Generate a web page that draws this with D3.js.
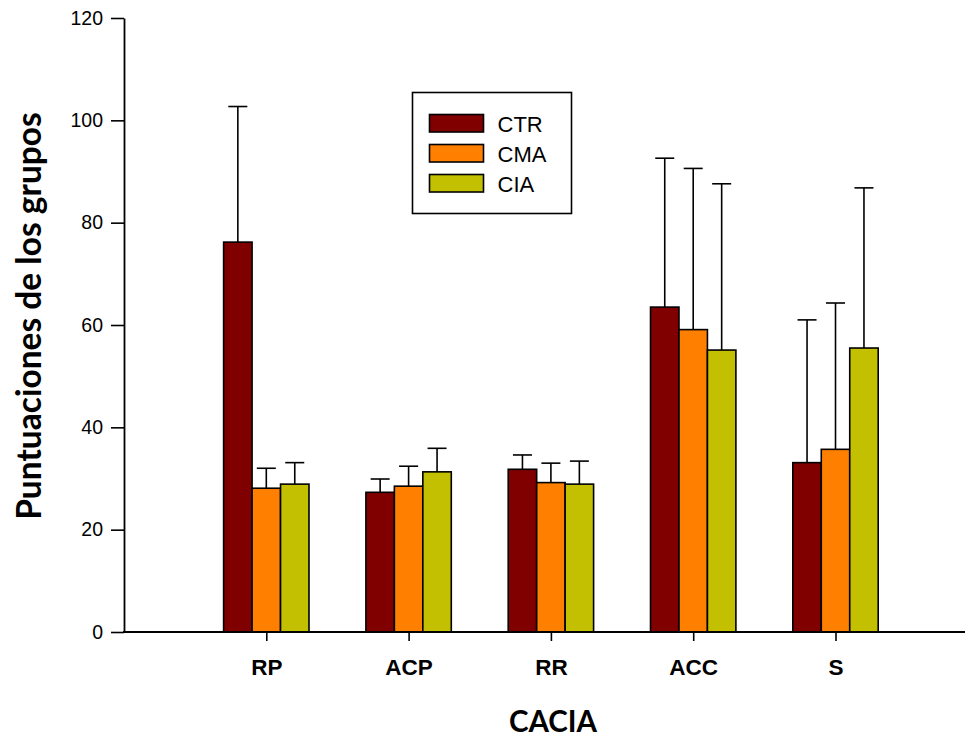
<!DOCTYPE html>
<html>
<head>
<meta charset="utf-8">
<script src="https://cdn.jsdelivr.net/npm/d3@7"></script>
<style>
  html, body { margin: 0; padding: 0; background: #fff; }
  svg { display: block; }
</style>
</head>
<body>
<svg id="chart" width="968" height="740"></svg>
<script>
// Categories of the CACIA questionnaire and the three groups
const categories = ["RP", "ACP", "RR", "ACC", "S"];
const groups = ["CTR", "CMA", "CIA"];

// Group means per category
const ctrMean = [76.2, 27.3, 31.8, 63.5, 33.1];
const cmaMean = [28.1, 28.5, 29.2, 59.1, 35.7];
const ciaMean = [28.9, 31.3, 28.9, 55.1, 55.5];

// Standard deviations (drawn as upward error bars)
const ctrSD = [26.5, 2.6, 2.8, 29.1, 27.9];
const cmaSD = [3.9, 3.9, 3.8, 31.5, 28.6];
const ciaSD = [4.2, 4.6, 4.5, 32.5, 31.3];

const groupColors = ["#800000", "#ff8000", "#c2c000"];
const yTicks = [0, 20, 40, 60, 80, 100, 120];

const means = [ctrMean, cmaMean, ciaMean];
const sds = [ctrSD, cmaSD, ciaSD];

const rows = [];
categories.forEach((c, i) => {
  groups.forEach((g, j) => {
    rows.push({ cat: c, group: g, gi: j, mean: means[j][i], sd: sds[j][i] });
  });
});

const svg = d3.select("#chart");
const plot = { left: 124, right: 965, top: 18, bottom: 632 };

// Five categories spread over six equal slots; the last slot stays empty on the right
const step = (plot.right - plot.left) / 5.91;
const x = d3.scalePoint()
  .domain(categories)
  .range([plot.left + step, plot.left + 5 * step]);

const y = d3.scaleLinear()
  .domain([0, 120])
  .range([plot.bottom, plot.top]);

const barW = step * 0.2;
const offset = d3.scaleLinear().domain([0, 2]).range([-barW, barW]);

const g = svg.append("g");

// Error bars (upper whisker only)
const err = g.append("g").attr("class", "errors")
  .attr("stroke", "#000").attr("stroke-width", 1.6);
rows.forEach(d => {
  const cx = x(d.cat) + offset(d.gi);
  err.append("line")
    .attr("x1", cx).attr("x2", cx)
    .attr("y1", y(d.mean)).attr("y2", y(d.mean + d.sd));
  err.append("line")
    .attr("x1", cx - 9.5).attr("x2", cx + 9.5)
    .attr("y1", y(d.mean + d.sd)).attr("y2", y(d.mean + d.sd));
});

// Bars
g.append("g").attr("class", "bars")
  .selectAll("rect")
  .data(rows)
  .join("rect")
  .attr("x", d => x(d.cat) + offset(d.gi) - barW / 2)
  .attr("width", barW)
  .attr("y", d => y(d.mean))
  .attr("height", d => y(0) - y(d.mean))
  .attr("fill", d => groupColors[d.gi])
  .attr("stroke", "#000")
  .attr("stroke-width", 1.6);

// Y axis
const yAxis = svg.append("g")
  .attr("transform", `translate(${plot.left},0)`)
  .call(d3.axisLeft(y).tickValues(yTicks).tickSize(13).tickSizeOuter(0).tickPadding(8));
yAxis.attr("font-size", null).attr("font-family", null);
yAxis.select(".domain").attr("stroke-width", 1.8);
yAxis.selectAll(".tick line").attr("stroke-width", 1.6);
yAxis.selectAll(".tick text")
  .style("font-family", "'Liberation Sans', Arial, sans-serif")
  .style("font-size", "19.5px")
  .attr("fill", "#000");

// X axis: baseline across the plot, ticks at category centres
svg.append("line")
  .attr("x1", plot.left - 1).attr("x2", plot.right)
  .attr("y1", y(0)).attr("y2", y(0))
  .attr("stroke", "#000").attr("stroke-width", 2.2);

const xAxis = svg.append("g")
  .attr("transform", `translate(0,${plot.bottom})`)
  .call(d3.axisBottom(x).tickSize(9).tickSizeOuter(0));
xAxis.attr("font-size", null).attr("font-family", null);
xAxis.select(".domain").remove();
xAxis.selectAll(".tick line").attr("stroke-width", 1.6);
xAxis.selectAll(".tick text")
  .attr("y", 43).attr("dy", 0)
  .style("font-family", "'Liberation Sans', Arial, sans-serif")
  .style("font-weight", "bold")
  .style("font-size", "22.5px")
  .attr("fill", "#000");

// Axis titles
svg.append("text")
  .attr("x", 553).attr("y", 732)
  .attr("text-anchor", "middle")
  .style("font-family", "Lato, 'Open Sans', sans-serif")
  .style("font-weight", "bold")
  .style("font-size", "29.5px")
  .text("CACIA");

svg.append("text")
  .attr("transform", `translate(41,${(plot.top + plot.bottom) / 2 - 9}) rotate(-90)`)
  .attr("text-anchor", "middle")
  .style("font-family", "Lato, 'Open Sans', sans-serif")
  .style("font-weight", "bold")
  .style("font-size", "33.5px")
  .text("Puntuaciones de los grupos");

// Legend
const legend = svg.append("g").attr("transform", "translate(412.5,92.5)");
legend.append("rect")
  .attr("width", 159).attr("height", 121)
  .attr("fill", "#fff").attr("stroke", "#000").attr("stroke-width", 1.6);
groups.forEach((name, i) => {
  const row = legend.append("g").attr("transform", `translate(0,${22 + i * 30})`);
  row.append("rect")
    .attr("x", 17).attr("width", 54).attr("height", 17.5)
    .attr("fill", groupColors[i]).attr("stroke", "#000").attr("stroke-width", 1.6);
  row.append("text")
    .attr("x", 85).attr("y", 17)
    .style("font-family", "'Liberation Sans', Arial, sans-serif")
    .style("font-size", "22px")
    .text(name);
});
</script>
</body>
</html>
